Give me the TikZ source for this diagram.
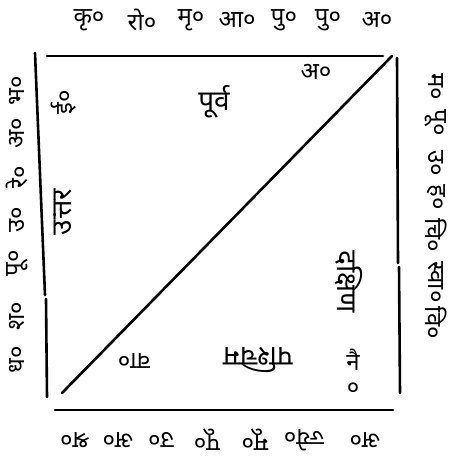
\documentclass[tikz,border=0pt]{standalone}
\usepackage{fontspec}
\newfontfamily\devfont[Script=Devanagari]{Noto Sans}
\usetikzlibrary{positioning}

\tikzset{
  nak/.style={font=\devfont\bfseries\fontsize{24}{24}\selectfont, inner sep=0pt},
  dirn/.style={font=\devfont\bfseries\fontsize{28}{28}\selectfont, inner sep=0pt},
  rim/.style={line width=2.6pt, line cap=round}
}

\begin{document}
\begin{tikzpicture}[x=1pt,y=-1pt]
  \useasboundingbox (0,0) rectangle (451,462);

  % nakshatra rows round the square
  \foreach \t/\x [count=\i] in {कृ०/89, रो०/142, मृ०/191, आ०/237, पु०/284, पु०/328, अ०/377}
    \node[nak] (top\i) at (\x,20) {\t};
  \foreach \t/\y [count=\i] in {म०/87, पू०/123, उ०/163, ह०/197, चि०/235, स्वा०/282, वि०/323}
    \node[nak, rotate=-90] (rgt\i) at (436,\y) {\t};
  \foreach \t/\x [count=\i] in {अ०/365, ज्ये०/304, मू०/255, पू०/207, उ०/161, अ०/118, श्र०/75}
    \node[nak, rotate=180] (bot\i) at (\x,440) {\t};
  \foreach \t/\y [count=\i] in {ध०/360, श०/316, पू०/263, उ०/220, रे०/177, अ०/133, भ०/91}
    \node[nak, rotate=90] (lft\i) at (17,\y) {\t};

  % frame
  \draw[rim] (35,53) -- (45,295);
  \draw[rim] (46,299) -- (47,397);
  \draw[rim] (47,56) -- (383,56);
  \draw[rim] (397,58) -- (398,263);
  \draw[rim] (399,267) -- (400,393);
  \draw[rim] (55,410) -- (393,410);

  % diagonal
  \coordinate (sw) at (62,393);
  \coordinate (ne) at (392,56);
  \draw[rim] (sw) -- (ne);

  % quarters and corners
  \node[dirn] (east) at (214,102) {पूर्व};
  \node[dirn, rotate=-90] (south) at (349,282) {दक्षिण};
  \node[dirn, rotate=180] (west) at (258,360) {पश्चिम};
  \node[dirn, rotate=90] (north) at (63,212) {उत्तर};
  \node[nak] (agni) at (316,72) {अ०};
  \node[nak, align=center] (nair) at (353,372) {नै\\[1pt]०};
  \node[nak, rotate=180] (vayu) at (134,361) {वा०};
  \node[nak, rotate=90] (isha) at (64,102) {ई०};
\end{tikzpicture}
\end{document}
